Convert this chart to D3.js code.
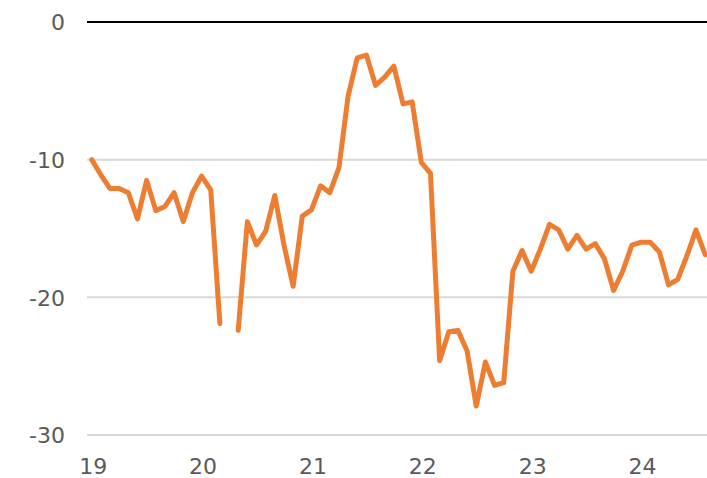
<!DOCTYPE html>
<html>
<head>
<meta charset="utf-8">
<script src="https://cdn.jsdelivr.net/npm/d3@7"></script>
<style>
  body { margin: 0; background: #fff; }
  svg text { font-family: "DejaVu Sans", Verdana, sans-serif; }
</style>
</head>
<body>
<div id="chart"></div>
<script>
// monthly values, Jan 2019 .. Aug 2024 (Apr 2020 missing)
const values = [
  -10.0, -11.1, -12.1, -12.1, -12.4, -14.3, -11.5, -13.7, -13.4, -12.4, -14.5, -12.4,
  -11.2, -12.2, -21.9, null, -22.4, -14.5, -16.2, -15.2, -12.6, -16.2, -19.2, -14.1,
  -13.65, -11.9, -12.4, -10.6, -5.4, -2.6, -2.4, -4.6, -4.0, -3.2, -5.95, -5.8,
  -10.2, -11.0, -24.6, -22.5, -22.4, -23.9, -27.9, -24.7, -26.4, -26.2, -18.1, -16.6,
  -18.1, -16.5, -14.7, -15.1, -16.5, -15.5, -16.5, -16.1, -17.2, -19.5, -18.1, -16.2,
  -16.0, -16.0, -16.7, -19.1, -18.7, -17.0, -15.1, -16.9
];
const yearLabels = ["19", "20", "21", "22", "23", "24"];
const yTicks = [0, -10, -20, -30];

const W = 707, H = 478;
const plotLeft = 87;

const svg = d3.select("#chart").append("svg")
  .attr("width", W)
  .attr("height", H);

// scales
const x = d3.scaleLinear()
  .domain([0, 66])
  .range([91.7, 696]);

const y = d3.scaleLinear()
  .domain([-30, 0])
  .range([435, 22]);

// gridlines
svg.append("g")
  .selectAll("line")
  .data(yTicks)
  .join("line")
  .attr("x1", plotLeft)
  .attr("x2", W)
  .attr("y1", d => y(d))
  .attr("y2", d => y(d))
  .attr("stroke", d => d === 0 ? "#000" : "#d9d9d9")
  .attr("stroke-width", 2);

// y axis labels (plain hyphen minus like the original)
const yAxis = svg.append("g")
  .attr("transform", "translate(65,0)")
  .call(d3.axisLeft(y).tickValues(yTicks).tickSize(0).tickPadding(0).tickFormat(d => String(d)));
yAxis.select(".domain").remove();
yAxis.selectAll("text")
  .attr("font-size", 22)
  .attr("fill", "#595959")
  .attr("dy", "0.36em");

// x axis labels
const xAxis = svg.append("g")
  .attr("transform", "translate(1,474)")
  .call(d3.axisBottom(x)
    .tickValues(yearLabels.map((d, i) => i * 12))
    .tickSize(0)
    .tickPadding(0)
    .tickFormat((d, i) => yearLabels[i]));
xAxis.select(".domain").remove();
xAxis.selectAll("text")
  .attr("font-size", 22)
  .attr("fill", "#595959")
  .attr("dy", 0)
  .attr("y", 0);

// line
const line = d3.line()
  .defined(d => d !== null)
  .x((d, i) => x(i))
  .y(d => y(d));

svg.append("path")
  .datum(values)
  .attr("d", line)
  .attr("fill", "none")
  .attr("stroke", "#ed7d31")
  .attr("stroke-width", 5)
  .attr("stroke-linejoin", "round")
  .attr("stroke-linecap", "round");
</script>
</body>
</html>
